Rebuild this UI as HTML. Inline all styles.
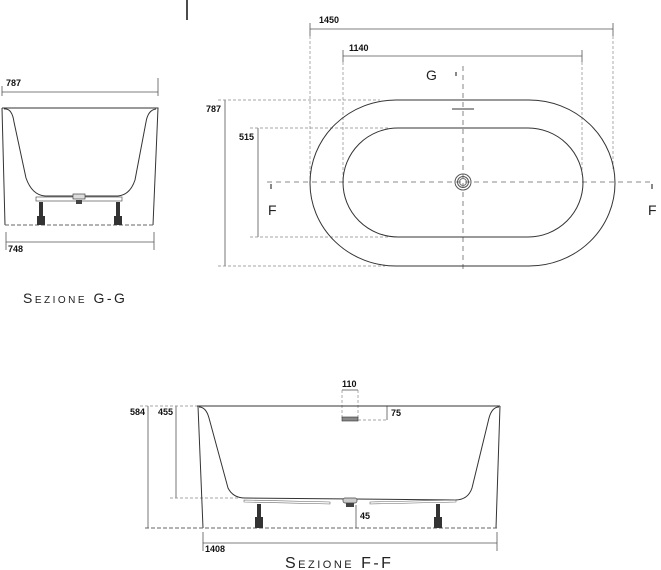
<!DOCTYPE html>
<html><head><meta charset="utf-8"><style>
html,body{margin:0;padding:0;background:#fff;}
svg{display:block;}
.d{font-family:"Liberation Sans",Arial,sans-serif;font-size:9px;font-weight:bold;fill:#111;}
.t{font-family:"Liberation Sans",Arial,sans-serif;font-variant:small-caps;letter-spacing:2.5px;fill:#222;}
</style></head><body>
<svg width="661" height="570" viewBox="0 0 661 570" xmlns="http://www.w3.org/2000/svg" fill="none" stroke="#333" stroke-width="1">
<line x1="187" y1="0" x2="187" y2="20" stroke="#111" stroke-width="1.5"/>
<!-- Plan view -->
<g stroke="#555" stroke-width="0.8">
<line x1="310" y1="29" x2="613" y2="29"/><line x1="310" y1="23" x2="310" y2="36"/><line x1="613" y1="23" x2="613" y2="36"/>
<line x1="343" y1="56" x2="582" y2="56"/><line x1="343" y1="50" x2="343" y2="62"/><line x1="582" y1="50" x2="582" y2="62"/>
<line x1="225" y1="100" x2="225" y2="266"/><line x1="258" y1="128" x2="258" y2="237"/>
</g>
<g stroke="#888" stroke-width="0.7" stroke-dasharray="3,2">
<line x1="310" y1="36" x2="310" y2="182"/><line x1="613" y1="36" x2="613" y2="170"/>
<line x1="343" y1="62" x2="343" y2="182"/><line x1="582" y1="62" x2="582" y2="175"/>
<line x1="218" y1="100" x2="380" y2="100"/><line x1="218" y1="266" x2="385" y2="266"/>
<line x1="250" y1="128" x2="390" y2="128"/><line x1="250" y1="237" x2="390" y2="237"/>
</g>
<g stroke="#666" stroke-width="0.8" stroke-dasharray="5,4">
<line x1="267" y1="182" x2="653" y2="182"/><line x1="463" y1="66" x2="463" y2="272"/>
</g>
<line x1="456" y1="72" x2="456" y2="76" stroke="#111"/>
<line x1="271" y1="184" x2="271" y2="189" stroke="#111"/>
<line x1="652" y1="184" x2="652" y2="189" stroke="#111"/>
<line x1="452" y1="109" x2="474" y2="109" stroke="#333"/>
<rect x="310" y="100" width="305" height="166" rx="86" ry="83" stroke="#333"/>
<rect x="343" y="128" width="240" height="109" rx="55" ry="54.5" stroke="#333"/>
<circle cx="463" cy="182" r="8" stroke="#555"/><circle cx="463" cy="182" r="5.5" stroke="#555"/><circle cx="463" cy="182" r="3.5" stroke="#777"/>
<text class="d" x="319" y="23" stroke="none">1450</text>
<text class="d" x="349" y="51" stroke="none">1140</text>
<text class="d" x="206" y="112" stroke="none">787</text>
<text class="d" x="239" y="140" stroke="none">515</text>
<text x="426" y="80" stroke="none" fill="#222" font-family="Liberation Sans,sans-serif" font-size="14">G</text>
<text x="268" y="215" stroke="none" fill="#222" font-family="Liberation Sans,sans-serif" font-size="14">F</text>
<text x="648" y="215" stroke="none" fill="#222" font-family="Liberation Sans,sans-serif" font-size="14">F</text>

<!-- Section G-G -->
<g stroke="#555" stroke-width="0.8">
<line x1="2" y1="92" x2="158" y2="92"/><line x1="2" y1="86" x2="2" y2="96"/><line x1="158" y1="78" x2="158" y2="96"/>
<line x1="6" y1="242" x2="154" y2="242"/><line x1="6" y1="232" x2="6" y2="250"/><line x1="154" y1="232" x2="154" y2="250"/>
</g>
<path d="M2 108 L158 108 L153 225 M2 108 L5 225" stroke="#333"/>
<path d="M4 109 Q12 108 14 122 L26 178 Q32 195 45 196 L118 196 Q130 195 135 180 L146 122 Q148 110 156 109" stroke="#333"/>
<line x1="5" y1="225" x2="153" y2="225" stroke="#666" stroke-dasharray="4,2"/>
<rect x="36" y="197" width="86" height="4" stroke="#555" stroke-width="0.7"/>
<rect x="73" y="194" width="12" height="5" fill="#ddd" stroke="#444" stroke-width="0.7"/>
<rect x="76" y="200" width="6" height="4" fill="#444" stroke="none"/>
<g fill="#333" stroke="none">
<rect x="39" y="202" width="4" height="14"/><rect x="37" y="216" width="8" height="9"/>
<rect x="116" y="202" width="4" height="14"/><rect x="114" y="216" width="8" height="9"/>
</g>
<text class="d" x="6" y="86" stroke="none">787</text>
<text class="d" x="8" y="252" stroke="none">748</text>
<text class="t" x="23" y="303" font-size="14" stroke="none">Sezione G-G</text>

<!-- Section F-F -->
<g stroke="#555" stroke-width="0.8">
<line x1="148" y1="406" x2="148" y2="528"/><line x1="176" y1="406" x2="176" y2="498"/>
<line x1="203" y1="543" x2="497" y2="543"/><line x1="203" y1="532" x2="203" y2="551"/><line x1="497" y1="532" x2="497" y2="551"/>
<line x1="387" y1="406" x2="387" y2="420"/><line x1="356" y1="505" x2="356" y2="528"/>
<line x1="342" y1="390" x2="358" y2="390"/>
</g>
<g stroke="#888" stroke-width="0.7" stroke-dasharray="3,2">
<line x1="140" y1="406" x2="197" y2="406"/><line x1="170" y1="498" x2="240" y2="498"/>
<line x1="342" y1="390" x2="342" y2="420"/><line x1="358" y1="390" x2="358" y2="420"/>
<line x1="358" y1="420" x2="387" y2="420"/>
</g>
<line x1="197" y1="406" x2="500" y2="406" stroke="#333"/>
<path d="M198 406 L203 528 M500 406 L496 528" stroke="#333"/>
<path d="M199 407 Q206 407 209 418 L228 488 Q233 498 245 498 L455 500 Q468 500 472 488 L489 418 Q492 407 499 407" stroke="#333"/>
<line x1="145" y1="528" x2="498" y2="528" stroke="#666" stroke-dasharray="4,2"/>
<rect x="342" y="417" width="16" height="4" fill="#888" stroke="#333" stroke-width="0.6"/>
<path d="M244 500 L330 502 L330 504 L244 502 Z M370 502 L456 500 L456 502 L370 504 Z" stroke="#666" stroke-width="0.6"/>
<rect x="343" y="498" width="14" height="5" rx="2" fill="#ccc" stroke="#444" stroke-width="0.7"/>
<rect x="346" y="503" width="8" height="4" fill="#444" stroke="none"/>
<g fill="#333" stroke="none">
<rect x="257" y="504" width="4" height="13"/><rect x="255" y="517" width="8" height="11"/>
<rect x="436" y="504" width="4" height="13"/><rect x="434" y="517" width="8" height="11"/>
</g>
<text class="d" x="130" y="415" stroke="none">584</text>
<text class="d" x="158" y="415" stroke="none">455</text>
<text class="d" x="342" y="387" stroke="none">110</text>
<text class="d" x="391" y="416" stroke="none">75</text>
<text class="d" x="360" y="519" stroke="none">45</text>
<text class="d" x="205" y="552" stroke="none">1408</text>
<text class="t" x="285" y="568" font-size="16" stroke="none">Sezione F-F</text>
</svg>
</body></html>
